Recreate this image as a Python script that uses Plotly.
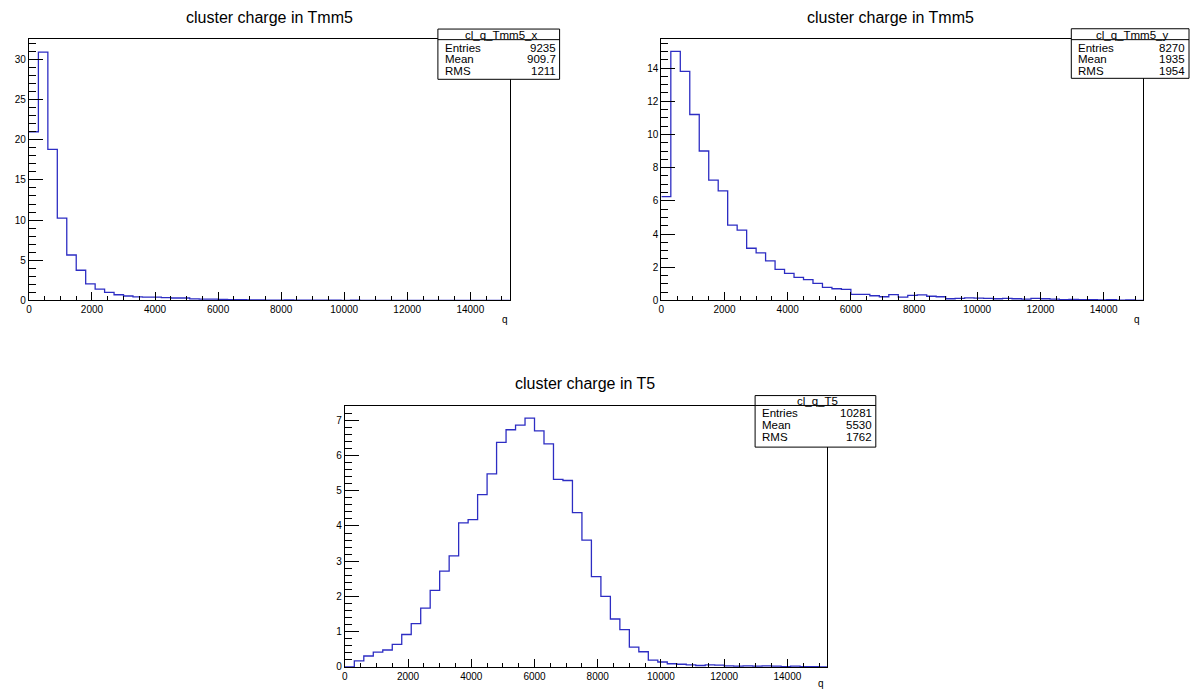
import plotly.graph_objects as go

W, H = 1192, 698

# ---------------- data ----------------
bin_width = 300
n_bins = 51
bin_edges = [i * bin_width for i in range(n_bins + 1)]

tmm5_x_values = [21.0, 30.9, 18.8, 10.25, 5.65, 3.75, 2.05, 1.4, 1.0, 0.7,
                 0.55, 0.45, 0.4, 0.4, 0.35, 0.3, 0.3, 0.2, 0.15, 0.15,
                 0.12, 0.1, 0.08, 0.05, 0.06, 0.04, 0.03, 0.05, 0.03, 0.02,
                 0.03, 0.02, 0.02, 0.01, 0.02, 0.01, 0.01, 0.01, 0.0, 0.01,
                 0.0, 0.01, 0.0, 0.0, 0.01, 0.0, 0.0, 0.0, 0.0, 0.0, 0.0]

tmm5_y_values = [6.25, 15.0, 13.8, 11.2, 9.0, 7.25, 6.6, 4.53, 4.23, 3.14,
                 2.86, 2.38, 1.87, 1.63, 1.39, 1.25, 1.03, 0.79, 0.7, 0.66,
                 0.36, 0.36, 0.28, 0.22, 0.35, 0.2, 0.3, 0.33, 0.25, 0.22,
                 0.1, 0.12, 0.15, 0.14, 0.12, 0.1, 0.12, 0.1, 0.08, 0.12,
                 0.1, 0.08, 0.05, 0.06, 0.04, 0.05, 0.03, 0.05, 0.02, 0.03, 0.0]

t5_values = [0.0, 0.17, 0.31, 0.42, 0.48, 0.64, 0.92, 1.23, 1.67, 2.17,
             2.72, 3.15, 4.09, 4.18, 4.89, 5.48, 6.37, 6.73, 6.86, 7.06,
             6.7, 6.33, 5.32, 5.29, 4.38, 3.6, 2.56, 2.0, 1.36, 1.06,
             0.56, 0.43, 0.19, 0.14, 0.09, 0.075, 0.06, 0.04, 0.06, 0.05,
             0.03, 0.02, 0.03, 0.02, 0.03, 0.02, 0.01, 0.02, 0.01, 0.01, 0.0]

titles = ["cluster charge in Tmm5", "cluster charge in Tmm5", "cluster charge in T5"]
stat_names = ["cl_q_Tmm5_x", "cl_q_Tmm5_y", "cl_q_T5"]
stat_entries = ["9235", "8270", "10281"]
stat_means = ["909.7", "1935", "5530"]
stat_rms = ["1211", "1954", "1762"]
x_tick_vals = [0, 2000, 4000, 6000, 8000, 10000, 12000, 14000]

# ---------------- layout helpers ----------------
def px(x):
    return x / W

def py(y):
    return 1 - y / H

FONT = "Liberation Sans, Arial, Helvetica, sans-serif"
LINE_COLOR = "rgb(45,45,195)"

frames = [  # (left, right, top, bottom) in pixels
    (26, 508, 39.3, 303),
    (660, 1143, 39.3, 303),
    (342.7, 826, 409.3, 672.7),
]
y_ranges = [[0, 32.55], [0, 15.75], [0, 7.41]]
y_dticks = [5, 2, 1]
y_minor = [1, 0.5, 0.2]
x_range = [0, 15250]

fig = go.Figure()
series = [tmm5_x_values, tmm5_y_values, t5_values]
for i, vals in enumerate(series):
    sfx = "" if i == 0 else str(i + 1)
    fig.add_trace(go.Scatter(
        x=bin_edges, y=list(vals) + [vals[-1]],
        mode="lines", line=dict(shape="hv", color=LINE_COLOR, width=1.3),
        xaxis="x" + sfx, yaxis="y" + sfx, showlegend=False, hoverinfo="skip",
    ))

for i, (l, r, t, b) in enumerate(frames):
    sfx = "" if i == 0 else str(i + 1)
    fig.layout["xaxis" + sfx] = dict(
        domain=[px(l), px(r)], anchor="y" + sfx, range=x_range,
        showline=True, linecolor="black", linewidth=1, mirror=True,
        ticks="inside", ticklen=8, tickcolor="black", tickwidth=1,
        tickvals=x_tick_vals, tickformat="d",
        minor=dict(dtick=500, ticks="inside", ticklen=4, tickcolor="black", tick0=0),
        showgrid=False, zeroline=False,
        tickfont=dict(family=FONT, size=10, color="black"),
    )
    fig.layout["yaxis" + sfx] = dict(
        domain=[py(b), py(t)], anchor="x" + sfx, range=y_ranges[i],
        showline=True, linecolor="black", linewidth=1, mirror=True,
        ticks="inside", ticklen=14, tickcolor="black", tickwidth=1,
        dtick=y_dticks[i], tick0=0,
        minor=dict(dtick=y_minor[i], ticks="inside", ticklen=7, tickcolor="black", tick0=0),
        showgrid=False, zeroline=False,
        tickfont=dict(family=FONT, size=10, color="black"),
    )

annotations = []
shapes = []

title_pos = [(267, 18), (890, 18), (583, 387)]
for i, (tx, ty) in enumerate(title_pos):
    annotations.append(dict(
        x=px(tx), y=py(ty), xref="paper", yref="paper", text=titles[i],
        showarrow=False, xanchor="center", yanchor="middle",
        font=dict(family=FONT, size=16, color="black"),
    ))

q_pos = [(503, 322), (1137, 322), (820, 689)]
for (qx, qy) in q_pos:
    annotations.append(dict(
        x=px(qx), y=py(qy), xref="paper", yref="paper", text="q",
        showarrow=False, xanchor="center", yanchor="middle",
        font=dict(family=FONT, size=10, color="black"),
    ))

# stats boxes: (left, right, top, header_bottom, bottom, header centre, row centres)
boxes = [
    (436, 558, 29.3, 40, 80, 35, [48, 60, 72]),
    (1071, 1189, 29, 40, 79, 35, [48, 60, 72]),
    (754, 875, 399, 409, 451, 404.5, [417, 429, 441]),
]
for i, (l, r, t, hb, b, hy, rows) in enumerate(boxes):
    shapes.append(dict(type="rect", xref="paper", yref="paper",
                       x0=px(l), x1=px(r), y0=py(b), y1=py(t),
                       line=dict(color="black", width=1), fillcolor="white",
                       layer="above"))
    shapes.append(dict(type="line", xref="paper", yref="paper",
                       x0=px(l), x1=px(r), y0=py(hb), y1=py(hb),
                       line=dict(color="black", width=1), layer="above"))
    annotations.append(dict(
        x=px((l + r) / 2 + 2), y=py(hy), xref="paper", yref="paper",
        text=stat_names[i], showarrow=False, xanchor="center", yanchor="middle",
        font=dict(family=FONT, size=11.5, color="black"),
    ))
    labels = ["Entries", "Mean", "RMS"]
    values = [stat_entries[i], stat_means[i], stat_rms[i]]
    for lab, val, ry in zip(labels, values, rows):
        annotations.append(dict(
            x=px(l + 5), y=py(ry), xref="paper", yref="paper", text=lab,
            showarrow=False, xanchor="left", yanchor="middle",
            font=dict(family=FONT, size=11.5, color="black"),
        ))
        annotations.append(dict(
            x=px(r - 2), y=py(ry), xref="paper", yref="paper", text=val,
            showarrow=False, xanchor="right", yanchor="middle",
            font=dict(family=FONT, size=11.5, color="black"),
        ))

fig.update_layout(
    width=W, height=H,
    margin=dict(l=0, r=0, t=0, b=0),
    paper_bgcolor="white", plot_bgcolor="white",
    annotations=annotations, shapes=shapes,
    showlegend=False,
)

fig.write_html("out.html")
